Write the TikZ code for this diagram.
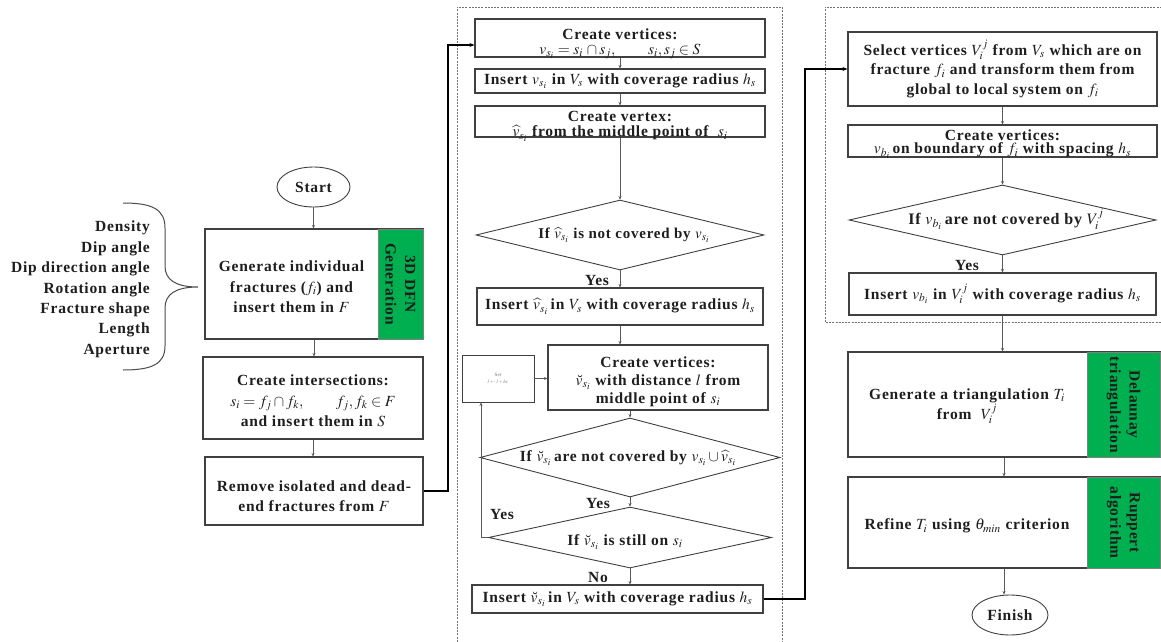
\documentclass[tikz,border=0pt]{standalone}
\usepackage{mathptmx}
\usepackage{fontspec}
\setmainfont{Liberation Serif}[LetterSpace=5]
\usetikzlibrary{shapes.geometric,arrows.meta,calc}
\definecolor{dgreen}{RGB}{0,176,80}
\definecolor{ink}{RGB}{30,30,30}
\begin{document}
\begin{tikzpicture}[x=1pt,y=-1pt,
  font=\fontsize{15.5}{19.5}\selectfont\bfseries, text=ink,
  box/.style={draw=black!75, line width=1.1pt, fill=white, align=center, inner sep=0pt},
  gbox/.style={draw=black!50, line width=0.5pt, fill=dgreen, align=center, inner sep=0pt, rotate=-90},
  txt/.style={align=center, inner sep=0pt},
  dec/.style={diamond, draw=black!75, line width=0.9pt, fill=white, inner sep=0pt, aspect=4},
  term/.style={ellipse, draw=black!75, line width=0.9pt, inner sep=0pt},
  conn/.style={draw=black!65, line width=0.5pt, -{Stealth[length=3.5pt,width=3pt]}},
  bigconn/.style={draw=black, line width=1.2pt, -{Stealth[length=5pt,width=4pt]}},
  frame/.style={draw=black!55, line width=0.6pt, dash pattern=on 2pt off 1.2pt},
  lab/.style={inner sep=0pt}]
\useasboundingbox (0,0) rectangle (1161,642);
\fill[white] (0,0) rectangle (1161,642);

% dashed frames
\draw[frame] (457,645) -- (457,7) -- (782,7) -- (782,645);
\draw[frame] (1165,7) -- (825,7) -- (825,322) -- (1165,322);

% brace and parameters
\draw[black!70, line width=1pt] (123,203) .. controls (152,203) and (165,209) .. (165,228) -- (165,266)
  .. controls (165,280) and (176,287) .. (198,287)
  .. controls (176,287) and (165,294) .. (165,308) -- (165,346)
  .. controls (165,364) and (152,370) .. (123,370);
\node[txt, anchor=east] (p1) at (150,228) {Density};
\node[txt, anchor=east] (p2) at (150,249) {Dip angle};
\node[txt, anchor=east] (p3) at (150,269) {Dip direction angle};
\node[txt, anchor=east] (p4) at (150,290) {Rotation angle};
\node[txt, anchor=east] (p5) at (150,310) {Fracture shape};
\node[txt, anchor=east] (p6) at (150,330) {Length};
\node[txt, anchor=east] (p7) at (150,351) {Aperture};

% left column
\node[term, minimum width=73, minimum height=40] (start) at (313.5,187) {Start};
\node[box, minimum width=218, minimum height=110] (gen) at (314,284) {};
\node[gbox, minimum width=110, minimum height=45] (genG) at (400.5,284) {3D DFN\\Generation};
\node[txt, font=\fontsize{15.5}{20.5}\selectfont\bfseries] (genT) at (291.5,287) {Generate individual\\fractures ($f_i$) and\\insert them in $F$};
\node[box, minimum width=220, minimum height=82] (inter) at (313,398) {};
\node[txt, font=\fontsize{15.5}{20.5}\selectfont\bfseries] (interT) at (313,401)
  {Create intersections:\\$s_i = f_j \cap f_k,\qquad f_j, f_k \in F$\\and insert them in $S$};
\node[box, minimum width=218, minimum height=68] (remove) at (314,491) {};
\node[txt, font=\fontsize{15.5}{20}\selectfont\bfseries] (removeT) at (314,496)
  {Remove isolated and dead-\\end fractures from $F$};

\draw[conn] (start.south) -- (start.south |- gen.north);
\draw[conn] (gen.south) -- (gen.south |- inter.north);
\draw[conn] (inter.south) -- (inter.south |- remove.north);

% middle column
\node[box, minimum width=290, minimum height=38] (cv1) at (620,38) {};
\node[txt, font=\fontsize{15.5}{15}\selectfont\bfseries] (cv1T) at (620,43.5)
  {Create vertices:\\$v_{s_i} = s_i \,\cap s_j,\qquad s_i, s_j \in S$};
\node[box, minimum width=290, minimum height=24] (ins1) at (620,81)
  {Insert $v_{s_i}$ in $V_s$ with coverage radius $h_s$};
\node[box, minimum width=290, minimum height=31] (cvx) at (620,121.5) {};
\node[txt, font=\fontsize{15.5}{15}\selectfont\bfseries] (cvxT) at (620,126.5)
  {Create vertex:\\$\widehat{v}_{s_i}$ from the middle point of \ $s_i$};
\node[dec, minimum width=288, minimum height=70] (d1) at (620,235) {};
\node[txt, font=\fontsize{15}{18}\selectfont\bfseries] (d1t) at (624,235) {If $\widehat{v}_{s_i}$ is not covered by $v_{s_i}$};
\node[box, minimum width=286, minimum height=37] (ins2) at (620,306.5)
  {Insert $\widehat{v}_{s_i}$\,in $V_s$ with coverage radius $h_s$};
\node[box, minimum width=220, minimum height=65] (cv2) at (658,377.5) {};
\node[txt, font=\fontsize{15.5}{18}\selectfont\bfseries] (cv2T) at (658,381.5)
  {Create vertices:\\$\breve{v}_{s_i}$ with distance $l$ from\\middle point of $s_i$};
\node[box, line width=0.9pt, minimum width=72, minimum height=47, font=\fontsize{5}{6.5}\selectfont, text=black!55] (set) at (498,378.5)
  {Set\\$l \leftarrow l + h_s$};
\node[dec, minimum width=300, minimum height=79] (d2) at (630,457.5) {};
\node[txt] (d2t) at (628,458) {If $\breve{v}_{s_i}$\,are not covered by $v_{s_i} \cup \widehat{v}_{s_i}$};
\node[dec, minimum width=283, minimum height=61] (d3) at (630,537.5) {};
\node[txt] (d3t) at (625,542) {If $\breve{v}_{s_i}$ is still on $s_i$};
\node[box, minimum width=291, minimum height=28] (ins3) at (617.5,599)
  {Insert $\breve{v}_{s_i}$\,in $V_s$ with coverage radius $h_s$};

\node[lab] (y1) at (597,280) {Yes};
\node[lab] (y2) at (598,503) {Yes};
\node[lab] (y3) at (502,514) {Yes};
\node[lab] (no) at (598,577) {No};

\draw[conn] (cv1.south) -- (ins1.north);
\draw[conn] (ins1.south) -- (cvx.north);
\draw[conn] (cvx.south) -- (d1.north);
\draw[conn] (d1.south) -- (ins2.north);
\draw[conn] (ins2.south) -- (ins2.south |- cv2.north);
\draw[conn] (d2.north |- cv2.south) -- (d2.north);
\draw[conn] (d2.south) -- (d3.north);
\draw[conn] (d3.south) -- (d3.south |- ins3.north);
\draw[conn] (set.east) -- (set.east -| cv2.west);
\coordinate (lp) at (481,537.5);
\draw[conn] (d3.west) -- (lp) -- (lp |- set.south);

% right column
\node[box, minimum width=309, minimum height=74] (sel) at (1002.5,69)
  {Select vertices $V_i^j$ from $V_s$ which are on\\fracture $f_i$ and transform them from\\global to local system on $f_i$};
\node[box, minimum width=309, minimum height=32] (cv3) at (1002.5,141) {};
\node[txt, font=\fontsize{15.5}{13.5}\selectfont\bfseries] (cv3T) at (1002.5,144)
  {Create vertices:\\$v_{b_i}$\,on boundary of $f_i$ with spacing $h_s$};
\node[dec, minimum width=307, minimum height=70] (d4) at (1002.5,220) {};
\node[txt, font=\fontsize{16}{19}\selectfont\bfseries] (d4t) at (1006,219) {If $v_{b_i}$\,are not covered by $V_i^j$};
\node[box, minimum width=307, minimum height=42] (ins4) at (1002.5,294)
  {Insert $v_{b_i}$ in $V_i^j$ with coverage radius $h_s$};
\node[lab] (y4) at (967,265) {Yes};

\node[box, minimum width=312, minimum height=105] (tri) at (1004,404.5) {};
\node[gbox, minimum width=105, minimum height=73] (triG) at (1123.5,404.5) {Delaunay\\triangulation};
\node[txt, font=\fontsize{15.5}{20}\selectfont\bfseries] (triT) at (967,406) {Generate a triangulation $T_i$\\from \ $V_i^j$};
\node[box, minimum width=312, minimum height=91] (ref) at (1004,522.5) {};
\node[gbox, minimum width=91, minimum height=73] (refG) at (1123.5,522.5) {Ruppert\\algorithm};
\node[txt] (refT) at (967,526) {Refine $T_i$ using $\theta_{min}$ criterion};
\node[term, minimum width=76, minimum height=40] (fin) at (1010,615) {Finish};

\draw[conn] (sel.south) -- (cv3.north);
\draw[conn] (cv3.south) -- (d4.north);
\draw[conn] (d4.south) -- (ins4.north);
\draw[conn] (ins4.south) -- (ins4.south |- tri.north);
\draw[conn] (tri.south) -- (ref.north);
\draw[conn] (ref.south) -- (ref.south |- fin.north);

% long connectors
\coordinate (r2) at (448,45);
\draw[bigconn] (remove.east) -- (remove.east -| r2) -- (r2) -- (cv1.west |- r2);
\coordinate (q) at (805,69);
\draw[bigconn] (ins3.east) -- (ins3.east -| q) -- (q) -- (sel.west);
\end{tikzpicture}
\end{document}
